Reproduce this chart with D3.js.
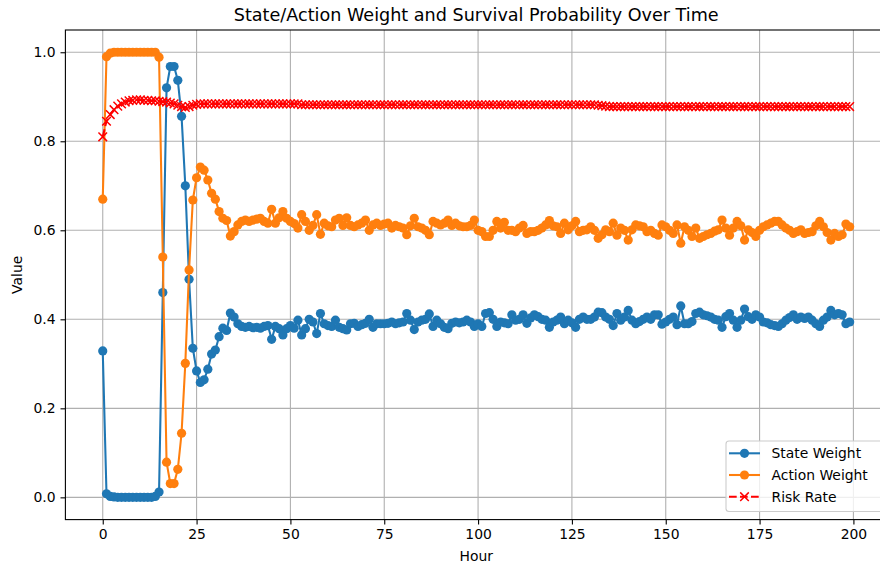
<!DOCTYPE html>
<html>
<head>
<meta charset="utf-8">
<script src="https://cdn.jsdelivr.net/npm/d3@7"></script>
<style>
  body { margin: 0; background: #fff; }
  svg { font-family: "DejaVu Sans", sans-serif; }
</style>
</head>
<body>
<svg id="chart" width="880" height="572"></svg>
<script>
// hours 0..199
var hours = d3.range(0, 200);

var stateWeight = [
  0.329, 0.008, 0.002, 0.001, 0.0, 0.0, 0.0, 0.0, 0.0, 0.0,
  0.0, 0.0, 0.0, 0.0, 0.002, 0.012, 0.46, 0.92, 0.968, 0.968,
  0.937, 0.856, 0.70, 0.49, 0.335, 0.284, 0.258, 0.264, 0.288, 0.322,
  0.331, 0.361, 0.38, 0.375, 0.414, 0.405, 0.39, 0.384, 0.382, 0.384,
  0.381, 0.382, 0.38, 0.384, 0.386, 0.355, 0.384, 0.379, 0.365, 0.379,
  0.386, 0.38, 0.398, 0.365, 0.379, 0.40, 0.394, 0.368, 0.413, 0.39,
  0.386, 0.384, 0.398, 0.382, 0.379, 0.376, 0.39, 0.391, 0.384, 0.388,
  0.391, 0.40, 0.382, 0.39, 0.39, 0.39, 0.391, 0.394, 0.39, 0.392,
  0.394, 0.413, 0.398, 0.377, 0.394, 0.398, 0.40, 0.412, 0.384, 0.398,
  0.39, 0.382, 0.379, 0.391, 0.394, 0.392, 0.394, 0.398, 0.394, 0.384,
  0.39, 0.384, 0.413, 0.415, 0.40, 0.384, 0.394, 0.392, 0.39, 0.41,
  0.398, 0.40, 0.41, 0.391, 0.403, 0.41, 0.406, 0.40, 0.398, 0.382,
  0.394, 0.398, 0.405, 0.39, 0.398, 0.392, 0.382, 0.40, 0.405, 0.40,
  0.40, 0.405, 0.416, 0.415, 0.405, 0.40, 0.386, 0.413, 0.398, 0.405,
  0.42, 0.398, 0.39, 0.395, 0.40, 0.405, 0.40, 0.41, 0.41, 0.389,
  0.394, 0.40, 0.405, 0.388, 0.43, 0.39, 0.39, 0.395, 0.413, 0.416,
  0.41, 0.408, 0.405, 0.40, 0.398, 0.382, 0.406, 0.413, 0.398, 0.382,
  0.398, 0.423, 0.406, 0.40, 0.41, 0.405, 0.394, 0.392, 0.388, 0.386,
  0.384, 0.39, 0.398, 0.404, 0.41, 0.40, 0.405, 0.402, 0.405, 0.398,
  0.39, 0.384, 0.398, 0.405, 0.42, 0.41, 0.413, 0.41, 0.39, 0.394
];

var actionWeight = [
  0.67, 0.99, 0.998, 1.0, 1.0, 1.0, 1.0, 1.0, 1.0, 1.0,
  1.0, 1.0, 1.0, 1.0, 1.0, 0.989, 0.54, 0.079, 0.031, 0.031,
  0.063, 0.144, 0.301, 0.511, 0.668, 0.718, 0.742, 0.735, 0.713, 0.683,
  0.67, 0.642, 0.627, 0.622, 0.587, 0.597, 0.612, 0.62, 0.623, 0.62,
  0.623, 0.625, 0.627, 0.62, 0.616, 0.647, 0.616, 0.628, 0.642, 0.627,
  0.62, 0.615, 0.605, 0.635, 0.62, 0.60, 0.611, 0.635, 0.591, 0.616,
  0.61, 0.608, 0.623, 0.627, 0.611, 0.628, 0.611, 0.608, 0.612, 0.616,
  0.623, 0.60, 0.612, 0.616, 0.611, 0.614, 0.616, 0.605, 0.611, 0.608,
  0.605, 0.59, 0.61, 0.627, 0.608, 0.605, 0.60, 0.59, 0.62, 0.616,
  0.612, 0.616, 0.623, 0.611, 0.616, 0.61, 0.608, 0.608, 0.611, 0.623,
  0.60, 0.597, 0.586, 0.586, 0.60, 0.62, 0.605, 0.618, 0.60, 0.60,
  0.597, 0.605, 0.611, 0.593, 0.597, 0.597, 0.60, 0.605, 0.612, 0.622,
  0.61, 0.608, 0.593, 0.616, 0.601, 0.61, 0.62, 0.597, 0.60, 0.601,
  0.608, 0.60, 0.582, 0.59, 0.601, 0.597, 0.616, 0.589, 0.605, 0.60,
  0.578, 0.601, 0.612, 0.61, 0.608, 0.597, 0.60, 0.593, 0.589, 0.612,
  0.608, 0.60, 0.593, 0.612, 0.571, 0.608, 0.60, 0.586, 0.605, 0.582,
  0.586, 0.59, 0.593, 0.598, 0.601, 0.623, 0.605, 0.589, 0.605, 0.62,
  0.61, 0.578, 0.601, 0.595, 0.586, 0.60, 0.608, 0.612, 0.616, 0.62,
  0.62, 0.612, 0.605, 0.60, 0.593, 0.597, 0.601, 0.593, 0.595, 0.597,
  0.61, 0.62, 0.608, 0.595, 0.578, 0.593, 0.586, 0.59, 0.614, 0.608
];

var riskRate = [
  0.81, 0.845, 0.86, 0.871, 0.879, 0.884, 0.888, 0.891, 0.892, 0.893,
  0.893, 0.892, 0.892, 0.891, 0.891, 0.89, 0.889, 0.888, 0.886, 0.884,
  0.881, 0.878, 0.876, 0.878, 0.881, 0.883, 0.884, 0.884, 0.884, 0.884,
  0.884, 0.884, 0.884, 0.884, 0.884, 0.884, 0.884, 0.884, 0.884, 0.884,
  0.884, 0.884, 0.884, 0.884, 0.884, 0.884, 0.884, 0.884, 0.884, 0.884,
  0.884, 0.884, 0.884, 0.882, 0.882, 0.882, 0.882, 0.882, 0.882, 0.882,
  0.882, 0.882, 0.882, 0.882, 0.882, 0.882, 0.882, 0.882, 0.882, 0.882,
  0.882, 0.882, 0.882, 0.882, 0.882, 0.882, 0.882, 0.882, 0.882, 0.882,
  0.882, 0.882, 0.882, 0.882, 0.882, 0.882, 0.882, 0.882, 0.882, 0.882,
  0.882, 0.882, 0.882, 0.882, 0.882, 0.882, 0.882, 0.882, 0.882, 0.882,
  0.882, 0.882, 0.882, 0.882, 0.882, 0.882, 0.882, 0.882, 0.882, 0.882,
  0.882, 0.882, 0.882, 0.882, 0.882, 0.882, 0.882, 0.882, 0.882, 0.882,
  0.882, 0.882, 0.882, 0.882, 0.882, 0.882, 0.882, 0.882, 0.882, 0.882,
  0.882, 0.882, 0.881, 0.880, 0.879, 0.878, 0.878, 0.878, 0.878, 0.878,
  0.878, 0.878, 0.878, 0.878, 0.878, 0.878, 0.878, 0.878, 0.878, 0.878,
  0.878, 0.878, 0.878, 0.878, 0.878, 0.878, 0.878, 0.878, 0.878, 0.878,
  0.878, 0.878, 0.878, 0.878, 0.878, 0.878, 0.878, 0.878, 0.878, 0.878,
  0.878, 0.878, 0.878, 0.878, 0.878, 0.878, 0.878, 0.878, 0.878, 0.878,
  0.878, 0.878, 0.878, 0.878, 0.878, 0.878, 0.878, 0.878, 0.878, 0.878,
  0.878, 0.878, 0.878, 0.878, 0.878, 0.878, 0.878, 0.878, 0.878, 0.878
];

var xTicks = [0, 25, 50, 75, 100, 125, 150, 175, 200];
var yTicks = [0.0, 0.2, 0.4, 0.6, 0.8, 1.0];

var seriesNames = ["State Weight", "Action Weight", "Risk Rate"];
var seriesColors = ["#1f77b4", "#ff7f0e", "#ff0000"];

var svg = d3.select("#chart"),
    plotLeft = 65.4, plotRight = 887, plotTop = 30, plotBottom = 519.6;

var x = d3.scaleLinear().domain([-9.95, 208.95]).range([plotLeft, plotRight]);
var y = d3.scaleLinear().domain([-0.05, 1.05]).range([plotBottom, plotTop]);

var markerR = 4.6;

svg.append("defs").append("clipPath").attr("id", "plotclip")
  .append("rect").attr("x", plotLeft).attr("y", plotTop)
  .attr("width", plotRight - plotLeft).attr("height", plotBottom - plotTop);

// grid
var grid = svg.append("g").attr("stroke", "#b0b0b0").attr("stroke-width", 1.1);
grid.selectAll(".gx").data(xTicks).enter().append("line")
  .attr("x1", function(d) { return x(d); }).attr("x2", function(d) { return x(d); })
  .attr("y1", plotTop).attr("y2", plotBottom);
grid.selectAll(".gy").data(yTicks).enter().append("line")
  .attr("y1", function(d) { return y(d); }).attr("y2", function(d) { return y(d); })
  .attr("x1", plotLeft).attr("x2", plotRight);

var plot = svg.append("g").attr("clip-path", "url(#plotclip)");

function drawSeries(values, color, dashed, marker) {
  var pts = hours.map(function(h, i) { return [h, values[i]]; });
  var line = d3.line().x(function(d) { return x(d[0]); }).y(function(d) { return y(d[1]); });
  var g = plot.append("g");
  g.append("path").datum(pts)
    .attr("fill", "none").attr("stroke", color).attr("stroke-width", 2.08)
    .attr("stroke-linejoin", "round")
    .attr("stroke-dasharray", dashed ? "7.7,3.3" : null)
    .attr("d", line);
  if (marker === "o") {
    g.selectAll("circle").data(pts).enter().append("circle")
      .attr("cx", function(d) { return x(d[0]); })
      .attr("cy", function(d) { return y(d[1]); })
      .attr("r", markerR).attr("fill", color);
  } else {
    var s = 4.3;
    g.selectAll("path.mk").data(pts).enter().append("path")
      .attr("class", "mk")
      .attr("d", function(d) {
        var cx = x(d[0]), cy = y(d[1]);
        return "M" + (cx - s) + "," + (cy - s) + "L" + (cx + s) + "," + (cy + s) +
               "M" + (cx - s) + "," + (cy + s) + "L" + (cx + s) + "," + (cy - s);
      })
      .attr("stroke", color).attr("stroke-width", 1.5).attr("fill", "none");
  }
}

drawSeries(stateWeight, seriesColors[0], false, "o");
drawSeries(actionWeight, seriesColors[1], false, "o");
drawSeries(riskRate, seriesColors[2], true, "x");

// axes
svg.append("g").attr("transform", "translate(0," + plotBottom + ")")
  .call(d3.axisBottom(x).tickValues(xTicks).tickFormat(d3.format("d")).tickSizeOuter(0).tickSize(4.9).tickPadding(4.9));
svg.append("g").attr("transform", "translate(" + plotLeft + ",0)")
  .call(d3.axisLeft(y).tickValues(yTicks).tickFormat(d3.format(".1f")).tickSizeOuter(0).tickSize(4.9).tickPadding(4.9));
svg.selectAll(".tick text").attr("font-size", 13.9).attr("font-family", "DejaVu Sans").attr("fill", "#000");
svg.selectAll(".tick line").attr("stroke", "#000").attr("stroke-width", 1.1);
svg.selectAll(".domain").remove();

// spines
svg.append("rect").attr("x", plotLeft).attr("y", plotTop)
  .attr("width", plotRight - plotLeft).attr("height", plotBottom - plotTop)
  .attr("fill", "none").attr("stroke", "#000").attr("stroke-width", 1.1);

// labels
svg.append("text").attr("x", (plotLeft + plotRight) / 2).attr("y", 21)
  .attr("text-anchor", "middle").attr("font-size", 17.6)
  .text("State/Action Weight and Survival Probability Over Time");
svg.append("text").attr("x", (plotLeft + plotRight) / 2).attr("y", 561)
  .attr("text-anchor", "middle").attr("font-size", 13.9).text("Hour");
svg.append("text").attr("transform", "translate(22," + ((plotTop + plotBottom) / 2) + ") rotate(-90)")
  .attr("text-anchor", "middle").attr("font-size", 13.9).text("Value");

// legend
var lg = svg.append("g");
lg.append("rect").attr("x", 726).attr("y", 441).attr("width", 160).attr("height", 70.5)
  .attr("rx", 3).attr("fill", "#fff").attr("fill-opacity", 0.8)
  .attr("stroke", "#cccccc").attr("stroke-width", 1.1);
var rows = lg.selectAll(".row").data(seriesNames).enter().append("g")
  .attr("transform", function(d, i) { return "translate(0," + (453.3 + i * 21.7) + ")"; });
rows.append("line").attr("x1", 729).attr("x2", 760).attr("y1", 0).attr("y2", 0)
  .attr("stroke", function(d, i) { return seriesColors[i]; }).attr("stroke-width", 2.08)
  .attr("stroke-dasharray", function(d, i) { return i === 2 ? "7.7,3.3" : null; });
rows.filter(function(d, i) { return i < 2; }).append("circle")
  .attr("cx", 744.5).attr("cy", 0).attr("r", markerR)
  .attr("fill", function(d) { return seriesColors[seriesNames.indexOf(d)]; });
rows.filter(function(d, i) { return i === 2; }).append("path")
  .attr("d", "M740.2,-4.3L748.8,4.3M740.2,4.3L748.8,-4.3")
  .attr("stroke", seriesColors[2]).attr("stroke-width", 1.5);
rows.append("text").attr("x", 771.5).attr("y", 0).attr("dy", "0.36em")
  .attr("font-size", 13.9).text(function(d) { return d; });
</script>
</body>
</html>
